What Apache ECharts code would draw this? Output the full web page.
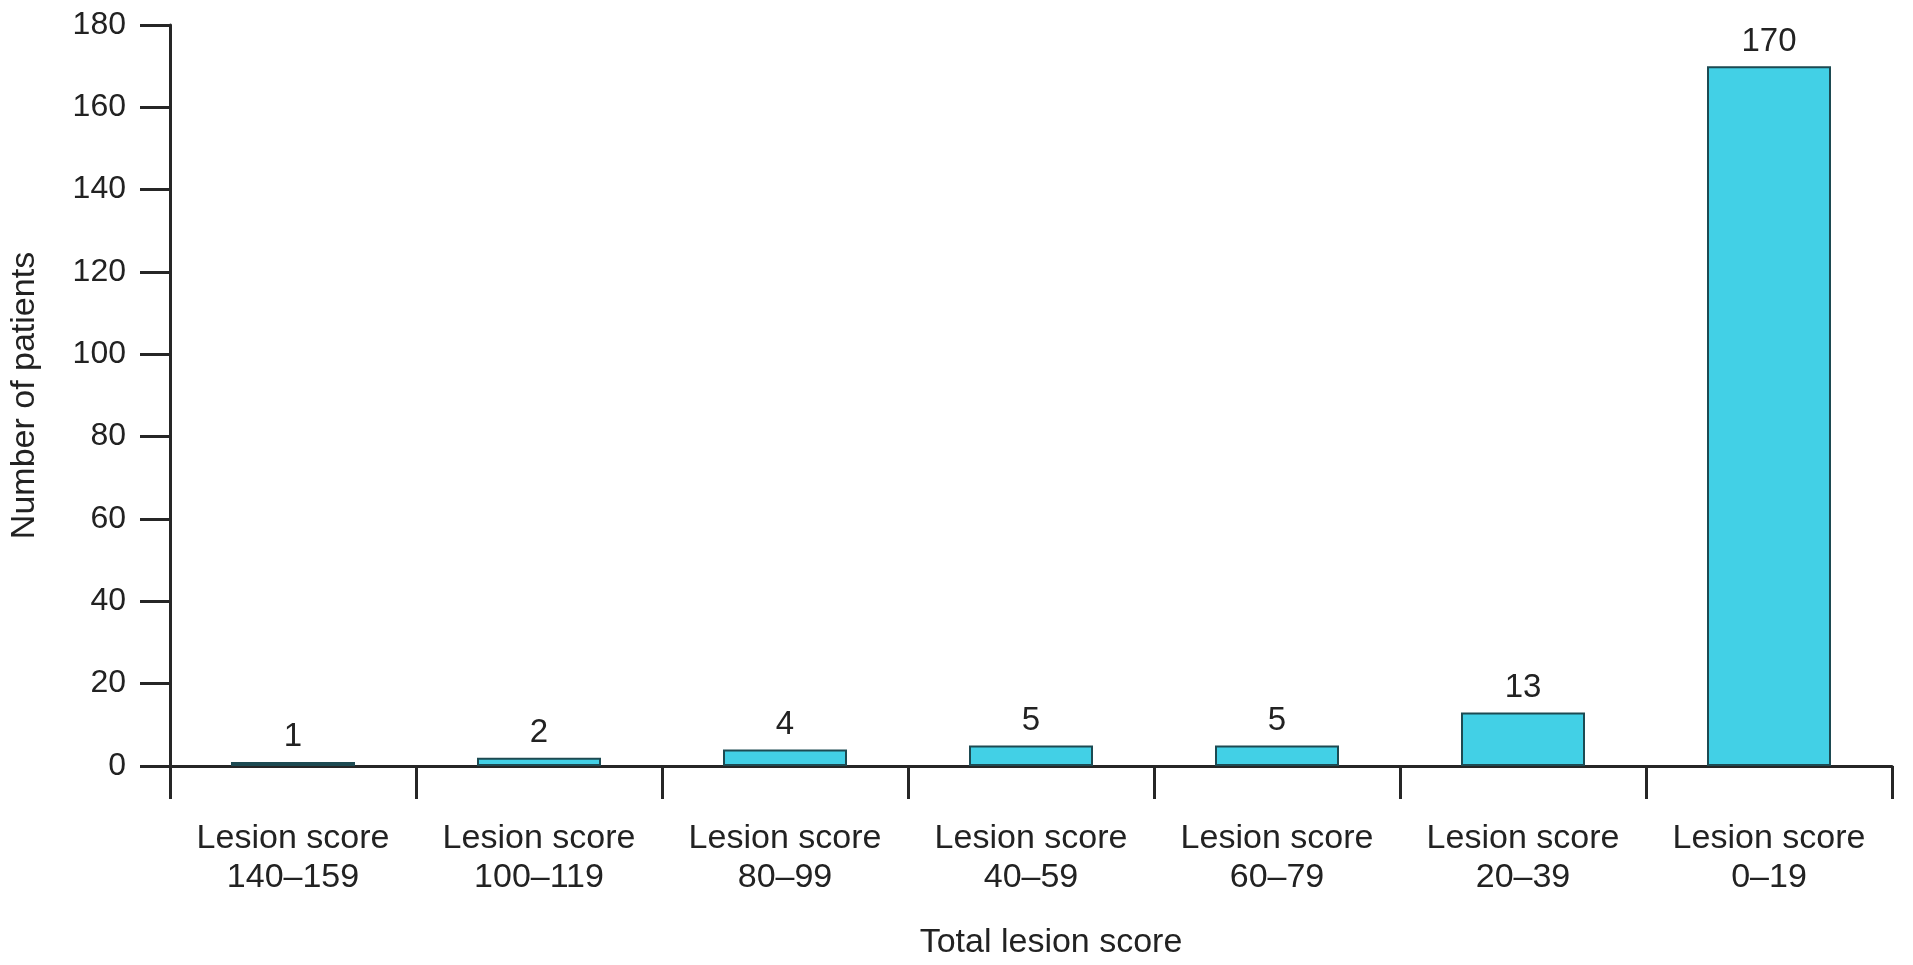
<!DOCTYPE html>
<html>
<head>
<meta charset="utf-8">
<script src="https://cdn.jsdelivr.net/npm/echarts@6/dist/echarts.min.js"></script>
<style>
html,body{margin:0;padding:0;background:#fff;}
#chart{width:1913px;height:965px;}
</style>
</head>
<body>
<div id="chart"></div>
<script>
const categories = ['Lesion score\n140\u2013159','Lesion score\n100\u2013119','Lesion score\n80\u201399','Lesion score\n40\u201359','Lesion score\n60\u201379','Lesion score\n20\u201339','Lesion score\n0\u201319'];
const values = [1, 2, 4, 5, 5, 13, 170];
const barColors = ['#22626c','#42d0e6','#42d0e6','#42d0e6','#42d0e6','#42d0e6','#42d0e6'];
const yTicks = {min: 0, max: 180, interval: 20};

const FONT = '"Liberation Sans", Arial, Helvetica, sans-serif';
const chart = echarts.init(document.getElementById('chart'));
chart.setOption({
  backgroundColor: '#fff',
  animation: false,
  grid: {left: 167, right: 21, top: 25, bottom: 199, containLabel: false},
  xAxis: {
    type: 'category',
    data: categories,
    name: 'Total lesion score',
    nameLocation: 'middle',
    nameGap: 160,
    nameTextStyle: {fontFamily: FONT, fontSize: 34, color: '#222', padding: [0,0,0,40]},
    axisLine: {show: true, lineStyle: {color: '#262626', width: 3}},
    axisTick: {show: true, interval: 0, length: 33, lineStyle: {color: '#262626', width: 3}},
    axisLabel: {interval: 0, hideOverlap: false, fontFamily: FONT, fontSize: 34, color: '#222', margin: 53, lineHeight: 39}
  },
  yAxis: {
    type: 'value',
    min: yTicks.min, max: yTicks.max, interval: yTicks.interval,
    name: 'Number of patients',
    nameLocation: 'middle',
    nameGap: 128,
    nameTextStyle: {fontFamily: FONT, fontSize: 34, color: '#222'},
    splitLine: {show: false},
    axisLine: {show: true, lineStyle: {color: '#262626', width: 3}},
    axisTick: {show: true, length: 30, lineStyle: {color: '#262626', width: 3}},
    axisLabel: {fontFamily: FONT, fontSize: 32, color: '#222', margin: 44}
  },
  series: [{
    type: 'bar',
    data: values.map((v, i) => ({value: v, itemStyle: {color: barColors[i]}})),
    barWidth: 124,
    itemStyle: {borderColor: '#1d4a52', borderWidth: 2},
    label: {show: true, position: 'top', distance: 8, fontFamily: FONT, fontSize: 33, color: '#222'}
  }]
});
</script>
</body>
</html>
